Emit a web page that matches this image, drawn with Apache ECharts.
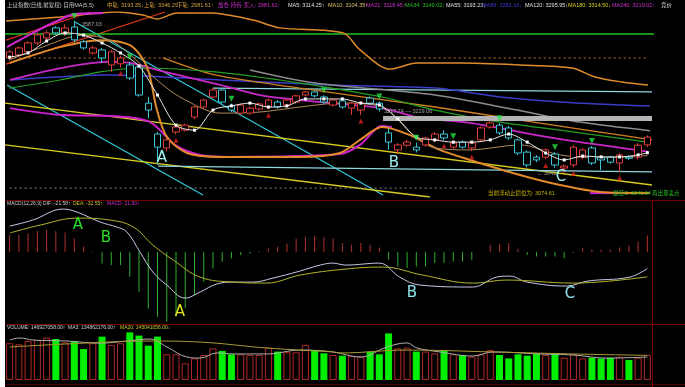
<!DOCTYPE html>
<html><head><meta charset="utf-8">
<script src="https://cdn.jsdelivr.net/npm/echarts@6.0.0/dist/echarts.min.js"></script>
<style>html,body{margin:0;padding:0;background:#000;}#c{width:685px;height:387px;}</style>
</head><body><div id="c"></div>
<script>
// ---------- DATA ----------
const N = 70;
const categories = Array.from({length: N}, (_, i) => 'D' + (i + 1));
// [open, close, low, high]
const ohlc = [
[3454,3476,3445,3482],[3465,3490,3458,3495],[3476,3508,3470,3515],[3508,3537,3500,3545],[3526,3544,3520,3552],
[3562,3544,3538,3568],[3544,3562,3533,3575],[3565,3519,3510,3587],[3512,3490,3484,3518],[3472,3490,3466,3498],
[3483,3454,3436,3490],[3429,3476,3404,3482],[3433,3454,3420,3462],[3429,3382,3375,3440],[3422,3321,3315,3428],
[3292,3267,3238,3314],[3181,3134,3070,3188],[3131,3160,3120,3166],[3188,3206,3180,3212],[3195,3213,3190,3218],
[3242,3278,3235,3283],[3278,3303,3272,3308],[3314,3339,3308,3345],[3339,3296,3290,3345],[3282,3267,3260,3290],
[3256,3285,3250,3290],[3256,3274,3250,3280],[3271,3289,3265,3295],[3278,3303,3270,3308],[3296,3278,3272,3303],
[3285,3303,3280,3310],[3296,3318,3290,3322],[3321,3332,3316,3336],[3332,3318,3312,3336],[3314,3296,3290,3320],
[3285,3303,3280,3308],[3300,3278,3272,3306],[3274,3292,3250,3298],[3267,3292,3249,3298],[3310,3292,3285,3316],
[3292,3271,3262,3298],[3185,3152,3124,3200],[3124,3142,3110,3148],[3141,3152,3135,3160],[3134,3124,3115,3150],
[3142,3167,3135,3172],[3160,3181,3152,3188],[3181,3167,3160,3195],[3134,3149,3128,3155],[3152,3134,3128,3158],
[3131,3149,3120,3155],[3160,3203,3155,3208],[3206,3221,3200,3228],[3213,3185,3178,3220],[3203,3167,3160,3210],
[3160,3113,3105,3165],[3116,3070,3062,3122],[3098,3088,3080,3105],[3098,3124,3090,3130],[3109,3070,3060,3116],
[3059,3066,3041,3072],[3070,3134,3062,3140],[3098,3124,3090,3130],[3131,3077,3070,3138],[3098,3088,3052,3102],
[3098,3080,3075,3103],[3077,3106,3045,3112],[3098,3094,3088,3104],[3098,3141,3090,3148],[3142,3170,3135,3176]
];
// volume, millions
const volume = [216,210,229,235,249,241,221,229,182,216,255,206,216,280,261,202,255,151,151,98,
127,147,186,171,151,151,147,147,190,167,163,163,206,176,157,147,143,143,137,167,
151,274,186,190,167,167,157,176,151,147,137,151,176,147,127,151,143,157,147,157,
131,151,127,131,127,131,137,118,131,147];
const macdHist = [22.4,22.4,24.6,27.6,28.9,27.6,25.9,18,7,1,-14.9,-17.1,-17.1,-32.5,-52.2,-74.1,-85,-91.7,-85,-74,
-56.6,-39,-21.5,-12.7,-8.3,-4,-2,1.3,4.8,7,11.4,18,20.2,21.5,20.2,18,12,9.6,11.8,9.6,
6,-10,-19,-21,-19,-19,-14.5,-14.5,-12.3,-12.3,-10,0.5,9.6,10.5,11.8,4.4,-3.5,-5.7,-5.7,-5.7,
-8,-1,5,3,3,3,6,8.6,13.8,21.93];
const difPts = [[0,34.2],[2.5,42.1],[5.8,56.6],[7.3,52.6],[9.8,39.5],[11.6,32.9],[12.7,26.3],[14.1,0],[15.5,-26.3],[17,-43.4],[19,-60.5],[20.6,-52.6],[22.4,-42.1],[24.2,-39.5],[26.3,-39.5],[28.5,-34.2],[31.4,-25],[33.6,-17.1],[35,-14.5],[36.3,-17.1],[40,-14.5],[42.2,-32.9],[44.4,-43.4],[50.1,-46],[52.7,-32.9],[54.1,-31.6],[56,-39.5],[60.3,-44.7],[62.5,-38.2],[67.1,-32.9],[69,-21.6]];
const deaPts = [[0,25],[3.3,35.5],[7.3,44.7],[10.9,42.1],[13.4,32.9],[15.5,9.2],[17.7,-10.5],[20.6,-32.9],[24.2,-39.5],[27.8,-40.8],[31.4,-30.3],[36.3,-22.4],[40.4,-19.7],[44.7,-30.3],[50.1,-40.8],[53.8,-36.8],[60.9,-40.8],[69,-32.6]];
const volMa3Pts = [[0,235],[1.12,247],[2.53,235],[6.21,229],[9.78,217],[12.7,229],[15.19,241],[17.03,194],[19.19,135],[20.6,129],[22.43,159],[24.17,153],[27.85,153],[31.42,176],[34.99,165],[37.91,135],[40.83,194],[42.99,218],[44.07,188],[46.56,165],[50.14,141],[52.29,165],[57.38,153],[60.95,147],[64.63,129],[69,135]];
const volMa20Pts = [[0,194],[6.21,212],[15.19,229],[20.6,223],[27.85,188],[34.99,165],[35.74,159],[42.99,176],[52.29,165],[60.95,153],[69,145]];

const upperBand = [[-0.39,3587],[5.45,3601],[11.62,3619],[14.43,3608],[15.94,3594],[18.1,3615],[21.68,3615],[26.33,3590],[29.25,3562],[36.07,3544],[37.91,3483],[41.15,3414],[44.07,3436],[48.73,3436],[55.21,3429],[60.85,3418],[63.33,3386],[66.25,3368],[69.06,3357]];
const lowerBand = [[0,3436],[5.45,3493],[9.78,3518],[13.02,3500],[14.86,3422],[15.94,3267],[17.03,3170],[19.19,3113],[22.76,3099],[31.42,3099],[35.74,3113],[37.91,3160],[40.29,3206],[43.32,3177],[46.56,3124],[49.81,3088],[55.21,3034],[59.55,2998],[63.87,2973],[69.28,2969]];
const topArcPts = [[-0.28,3493],[2.53,3544],[4.91,3583],[7.29,3612],[10.1,3615]];
const ma5Pts = [[0,3457],[2,3472],[4,3515],[6,3544],[8,3536],[10,3508],[12,3472],[14,3425],[16,3321],[18,3213],[20,3195],[22,3267],[24,3282],[26,3292],[28,3278],[30,3282],[32,3307],[34,3307],[36,3307],[38,3292],[40,3285],[42,3235],[44,3170],[46,3160],[48,3152],[50,3152],[52,3160],[54,3181],[56,3152],[58,3113],[60,3088],[62,3102],[64,3099],[66,3099],[68,3106],[69,3114]];
const ma10Pts = [[0,3447],[3.29,3490],[7.94,3536],[10.86,3518],[13.35,3457],[15.94,3375],[18.43,3314],[22.76,3256],[27.09,3260],[31.42,3278],[35.74,3292],[40.29,3278],[43.86,3170],[46.02,3131],[49.81,3124],[55.21,3142],[59.55,3106],[63.87,3095],[69.06,3104]];
const ma21Pts = [[0.04,3375],[6.21,3422],[10.86,3440],[13.02,3436],[16.81,3404],[22.76,3357],[27.09,3321],[31.42,3303],[35.74,3289],[40.29,3274],[44.4,3239],[49.81,3221],[55.21,3188],[60.09,3160],[69.06,3118]];
const ma34Pts = [[0,3346],[5.45,3375],[9.78,3404],[14.1,3418],[22.22,3404],[31.42,3364],[40.29,3314],[46.02,3267],[53.05,3224],[59.55,3195],[69.06,3152]];
const ma55Pts = [[26.01,3411],[33.04,3364],[46.02,3321],[54.89,3267],[61.71,3224],[69.28,3193]];
const ma89Pts = [[0.04,3375],[10.86,3393],[22.76,3375],[34.66,3357],[46.02,3346],[53.05,3314],[59.55,3296],[66.36,3285],[69.28,3282]];
const orangeMidPts = [[16.6,3454],[22.22,3393],[31.42,3346],[46.02,3278],[55.21,3231],[63.87,3188],[69.5,3160]];
const stopLinePts = [[0.04,3274],[5.78,3249],[10.86,3246],[15.19,3224],[17.89,3142],[20.6,3106],[23.84,3099],[35.74,3109],[37.91,3142],[40.29,3210],[41.37,3206]];
const stopLinePts2 = [[62.79,2969],[66.04,2969]];
const trendLines = [
  {color:'#e02828', pts:[[-0.39,3518],[8.7,3619]]},
  {color:'#e03a1a', pts:[[-0.39,3432],[16.81,3619]]},
  {color:'#30c8d8', pts:[[7.07,3583],[40.4,2962]]},
  {color:'#30c8d8', pts:[[-0.28,3357],[20.92,2962]]},
  {color:'#d8cc20', pts:[[-0.5,3292],[69.5,2998]]},
  {color:'#d8cc20', pts:[[-0.5,3142],[45.48,2955]]},
  {color:'#90d8e0', pts:[[16.06,3066],[69.5,3045]]},
  {color:'#90d8e0', pts:[[22,3346],[69.5,3332]]}
];
const greenLevel = 3540, dotLevel = 3454, lowDotLevel = 2987;
const bandRange = [40.4, 69.5], bandLevel = 3237;
const sellIdx = [7,13,24,34,40,44,48,53,59,63];
const buyIdx = [12,18,28,38,47,50,58,61,66];

// ---------- CHART ----------
const FONT = '"Liberation Sans","Noto Sans CJK SC",sans-serif';
const chart = echarts.init(document.getElementById('c'));
const L = 5, W = 647;
function lineS(pts, color, width, extra){
  return Object.assign({type:'line', xAxisIndex:3, yAxisIndex:0, data:pts, showSymbol:false, smooth:0.3,
    lineStyle:{color:color, width:width}, silent:true, z:3}, extra||{});
}
const series = [];
trendLines.forEach(t => series.push(lineS(t.pts, t.color, 1.3, {smooth:false})));
series.push(lineS([[-0.5,greenLevel],[73.1,greenLevel]], '#22c022', 1.5, {smooth:false, clip:false}));
series.push(lineS([[-0.1,dotLevel],[69,dotLevel]], '#c87830', 1, {smooth:false, lineStyle:{color:'#c87830', width:1, type:[2,3]}}));
series.push(lineS([[0,lowDotLevel],[50,lowDotLevel]], '#8a8a8a', 1, {smooth:false, lineStyle:{color:'#8a8a8a', width:1, type:[2,3]}}));
series.push(lineS(upperBand, '#e08a2a', 1.5));
series.push(lineS(topArcPts, '#d028d0', 2.2, {smooth:0.4}));
series.push(lineS(ma89Pts, '#3c3cc8', 1.5));
series.push(lineS(ma55Pts, '#8c8c8c', 1.5));
series.push(lineS(orangeMidPts, '#d08020', 1.3));
series.push(lineS(ma34Pts, '#22a022', 1.2));
series.push(lineS(ma21Pts, '#c828c8', 1.8));
series.push(lineS(stopLinePts, '#d020d0', 2));
series.push(lineS(stopLinePts2, '#d020d0', 2, {smooth:false}));
series.push(lineS(lowerBand, '#e08a2a', 2));
series.push(lineS(ma10Pts, '#b08a58', 1));
series.push(lineS([[bandRange[0],bandLevel],[bandRange[1],bandLevel]], '#b4b4b4', 5, {smooth:false, z:6, lineStyle:{color:'#b4b4b4', width:5, cap:'butt'}}));
series.push({type:'candlestick', xAxisIndex:0, yAxisIndex:0, data:ohlc, barWidth:7, z:5,
  itemStyle:{color:'#000', color0:'#000', borderColor:'#e03c3c', borderColor0:'#3cc4d4', borderWidth:1}});
series.push(lineS(ma5Pts, '#e8e8e8', 1, {showSymbol:true, symbol:'rect', symbolSize:3, itemStyle:{color:'#ffffff'}, z:7}));
series.push({type:'scatter', xAxisIndex:0, yAxisIndex:0, z:8, symbol:'triangle', symbolRotate:180, symbolSize:6, symbolOffset:[0,-5],
  itemStyle:{color:'#22e040'}, data: sellIdx.map(i => [i, ohlc[i][3]])});
series.push({type:'scatter', xAxisIndex:0, yAxisIndex:0, z:8, symbol:'triangle', symbolSize:5, symbolOffset:[0,6],
  itemStyle:{color:'#e02020'}, data: buyIdx.map(i => [i, ohlc[i][2]])});
series.push({type:'bar', xAxisIndex:1, yAxisIndex:1, barWidth:1, data: macdHist.map(v => ({value:v, itemStyle:{color: v>=0 ? '#b03030' : '#2cb02c'}}))});
series.push(Object.assign(lineS(difPts, '#c8c8e6', 1), {xAxisIndex:4, yAxisIndex:1, smooth:0.4}));
series.push(Object.assign(lineS(deaPts, '#b4b42c', 1), {xAxisIndex:4, yAxisIndex:1, smooth:0.4}));
series.push({type:'bar', xAxisIndex:2, yAxisIndex:2, barWidth:7, data: volume.map((v,i) => {
  const up = ohlc[i][1] >= ohlc[i][0];
  return {value:v, itemStyle: up ? {color:'#000', borderColor:'#b02828', borderWidth:1} : {color:'#00ee00'}};
})});
series.push(Object.assign(lineS(volMa3Pts, '#b0b0b0', 1), {xAxisIndex:5, yAxisIndex:2, smooth:0.4}));
series.push(Object.assign(lineS(volMa20Pts, '#a89a34', 1), {xAxisIndex:5, yAxisIndex:2, smooth:0.4}));

function txt(x, y, s, color, size, extra){
  return {type:'text', x:x, y:y, silent:true, z:100, style:Object.assign({text:s, fill:color, font:(size||5.5)+'px '+FONT, verticalAlign:'middle'}, extra||{})};
}
function hline(x1,x2,y,color){ return {type:'line', silent:true, z:90, shape:{x1:x1,y1:y,x2:x2,y2:y}, style:{stroke:color, lineWidth:1}}; }
function vline(x,y1,y2,color){ return {type:'line', silent:true, z:90, shape:{x1:x,y1:y1,x2:x,y2:y2}, style:{stroke:color, lineWidth:1}}; }
const bold = (s, c, x, y) => txt(x, y, s, c, 15, {align:'center', font:'15px "DejaVu Sans",sans-serif'});

const graphic = [
  {type:'rect', shape:{x:0,y:0,width:5,height:387}, style:{fill:'#ffffff'}, z:100, silent:true},
  hline(5,685,200.5,'#700000'), hline(5,685,324.5,'#700000'), hline(5,685,384.5,'#500000'), vline(652.5,200,387,'#700000'),
  txt(7,5.5,'上证指数(日线,前复权) 自用MA(5,5)','#c8c8c8'),
  txt(107,5.5,'中轨: 3193.35↓','#d8a040'),
  txt(144,5.5,'上轨: 3346.29↓','#d8a040'),
  txt(177,5.5,'下轨: 2981.61↑','#d8a040'),
  txt(218,5.5,'加仓·持有·买入: 2981.61↑','#d030d0'),
  txt(288,5.5,'MA5: 3114.25↑','#e0e0e0'),
  txt(328,5.5,'MA10: 3104.35↑','#e0c070'),
  txt(366,5.5,'MA21: 3118.45↑','#d030d0'),
  txt(405,5.5,'MA34: 3149.02↓','#22c022'),
  txt(446,5.5,'MA55: 3193.23↓','#e0e0e0'),
  txt(482,5.5,'MA89: 3282.16↓','#3c3cd0'),
  txt(525,5.5,'MA120: 3295.95↓','#e0e0e0'),
  txt(568,5.5,'MA180: 3314.50↓','#d8d020'),
  txt(612,5.5,'MA240: 3219.02↑','#d030d0'),
  txt(661,5.5,'竞价','#e0e0e0'),
  txt(7,204,'MACD(12,26,9) DIF: -21.58↑','#d0d0d0',5),
  txt(73,204,'DEA: -32.55↑','#c8c830',5),
  txt(107,204,'MACD: 21.93↑','#d030d0',5),
  txt(7,328,'VOLUME: 146927058.00↑','#d0d0d0',5),
  txt(68,328,'MA3: 134862176.00↑','#d0d0d0',5),
  txt(120,328,'MA20: 145041056.00↓','#c8c830',5),
  txt(82,24,'3587.03','#a0a0a0'),
  txt(384,111,'3227.74 — 3229.06','#a0a0a0'),
  txt(537,173,'← 3041','#a0a0a0'),
  txt(488,193,'当前浮动止损位为: 3074.61','#c8b400'),
  txt(613,193,'最低C: 3041.64','#22c022'),
  txt(652,193,'再出现卖点','#22c022'),
  bold('A','#a0f0f0',162,158), bold('B','#a0f0f0',394,163), bold('C','#a0f0f0',561,177),
  bold('A','#22e022',78,225), bold('B','#22e022',106,238), bold('A','#e0e022',180,312),
  bold('B','#90e4f0',412,293), bold('C','#90e4f0',570,294)
];

const grids = [
  {left:L, width:W, top:12, height:185},
  {left:L, width:W, top:208, height:114},
  {left:L, width:W, top:330, height:50}
];
const xAxis = [0,1,2].map(g => ({type:'category', gridIndex:g, data:categories, boundaryGap:true, show:false}))
  .concat([0,1,2].map(g => ({type:'value', gridIndex:g, min:-0.5, max:69.5, show:false})));
const yAxis = [
  {type:'value', gridIndex:0, min:2955, max:3619, show:false},
  {type:'value', gridIndex:1, min:-92, max:58, show:false},
  {type:'value', gridIndex:2, min:0, max:294, show:false}
];
chart.setOption({backgroundColor:'#000', animation:false, grid:grids, xAxis:xAxis, yAxis:yAxis, series:series, graphic:graphic});
</script></body></html>
